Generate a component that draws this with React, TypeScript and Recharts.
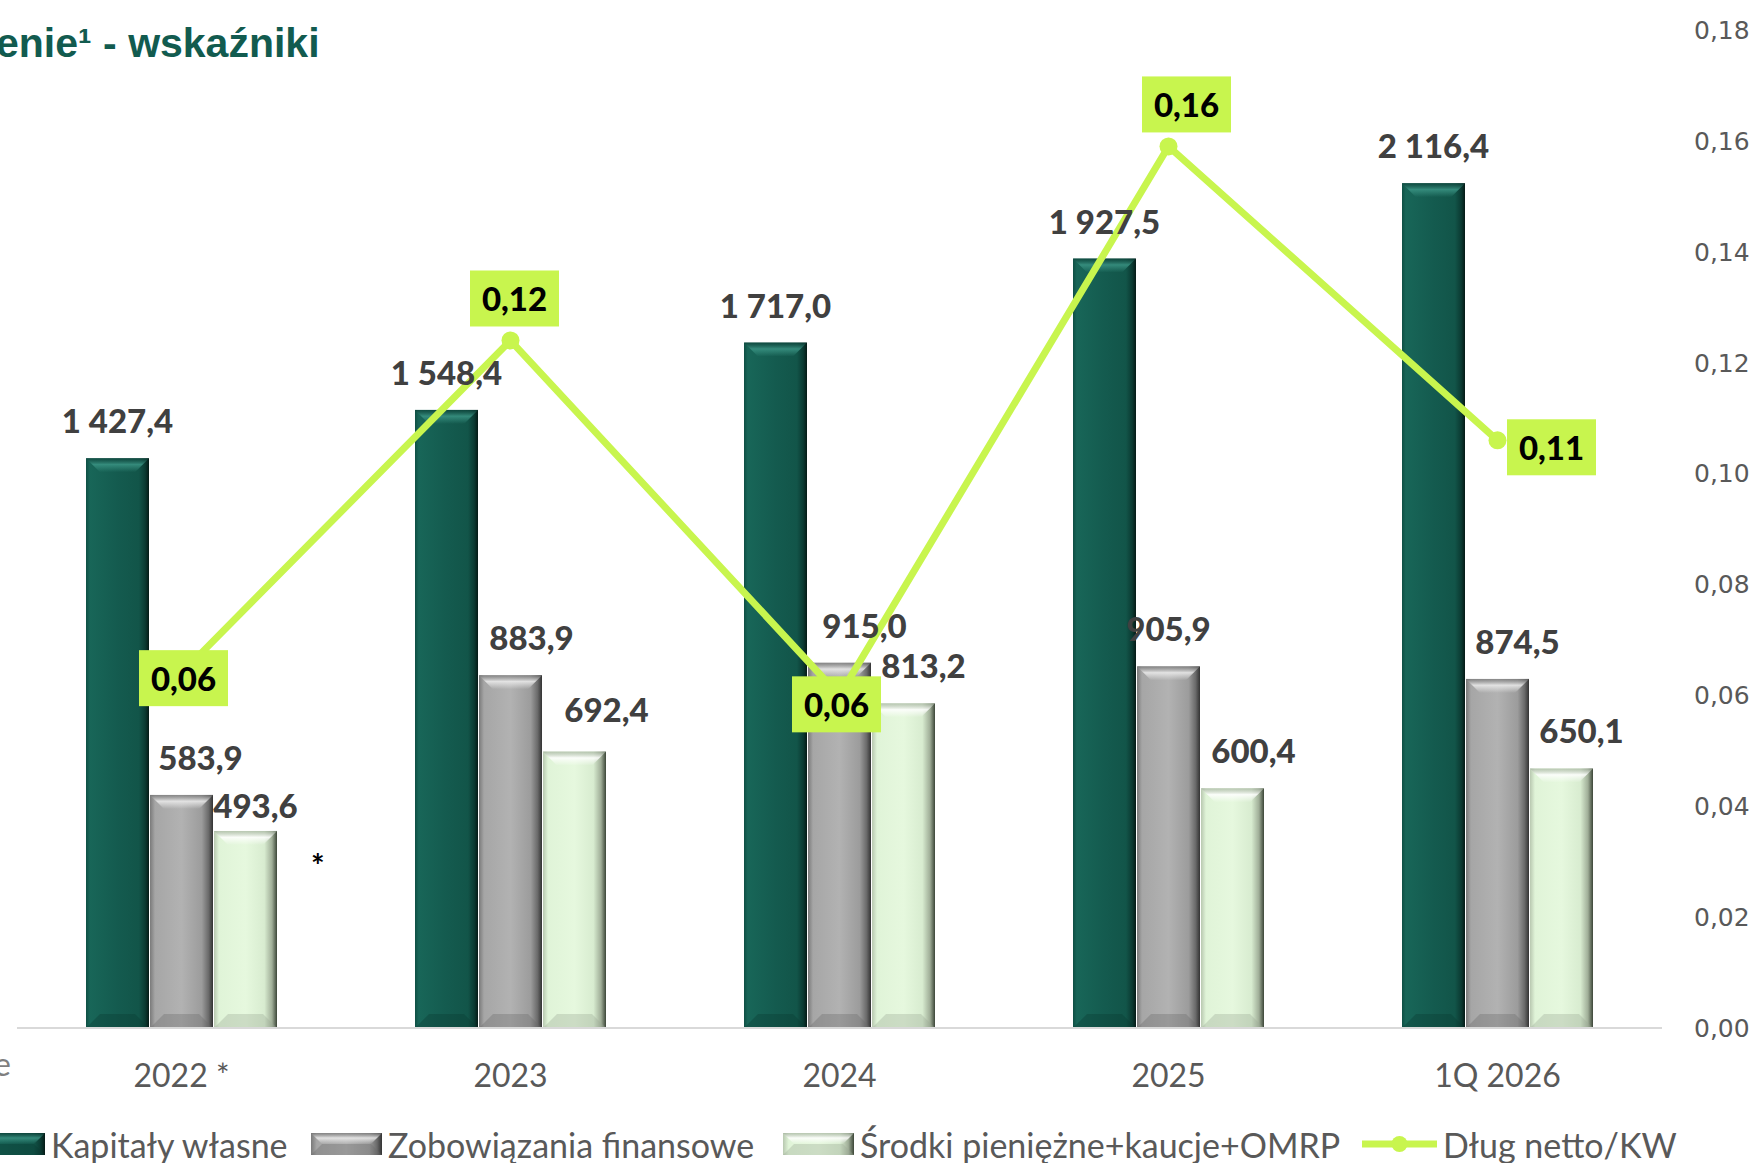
import { ComposedChart, Bar, Line, XAxis, YAxis, LabelList } from 'recharts'

// --- data ---
const categories = ['2022 *', '2023', '2024', '2025', '1Q 2026']
const kapitalyWlasne = [1427.4, 1548.4, 1717.0, 1927.5, 2116.4]
const zobowiazaniaFinansowe = [583.9, 883.9, 915.0, 905.9, 874.5]
const srodkiPieniezne = [493.6, 692.4, 813.2, 600.4, 650.1]
const dlugNettoKw = [0.064, 0.124, 0.06, 0.159, 0.106]
const rightTicks = [0, 0.02, 0.04, 0.06, 0.08, 0.1, 0.12, 0.14, 0.16, 0.18]

// label nudges (px) so the labels sit where the slide has them
const greyLabelDx = [19, 21, 25, 0, 20]
const lightLabelDx = [10, 32, 20, 21, 20]
const lightLabelDy = [12, -5, 0, 0, 0]
const ratioBoxOffset = [
  [2, 5],
  [4, -42],
  [-3, 9],
  [18, -42],
  [54, 7],
]

const W = 1761
const H = 1163
const LIME = '#c8f54e'
const FONT = 'Lato, "Open Sans", sans-serif'

const data = categories.map((name, i) => ({
  name,
  kapitaly: kapitalyWlasne[i],
  zobowiazania: zobowiazaniaFinansowe[i],
  srodki: srodkiPieniezne[i],
  dlug: dlugNettoKw[i],
}))

interface Tone {
  id: string
  stops: [number, string][]
  top: string
  edge: string
}

const TONES: Record<string, Tone> = {
  green: {
    id: 'gGreen',
    stops: [
      [0, '#0f4f44'],
      [0.06, '#186658'],
      [0.5, '#145b4f'],
      [0.84, '#125549'],
      [0.94, '#0b3a32'],
      [1, '#051a16'],
    ],
    top: '#3a9383',
    edge: '#0a3a32',
  },
  grey: {
    id: 'gGrey',
    stops: [
      [0, '#7a7a7a'],
      [0.08, '#a6a6a6'],
      [0.5, '#b2b2b2'],
      [0.82, '#9c9c9c'],
      [0.93, '#6a6a6a'],
      [1, '#333333'],
    ],
    top: '#ececec',
    edge: '#6a6a6a',
  },
  light: {
    id: 'gLight',
    stops: [
      [0, '#b8c8b0'],
      [0.08, '#e0f4d8'],
      [0.5, '#e6f8de'],
      [0.8, '#d8ecd0'],
      [0.92, '#a0ae98'],
      [1, '#3c4638'],
    ],
    top: '#ffffff',
    edge: '#9aa894',
  },
}

// Polish number format: "1 427,4"
function fmtValue(v: number): string {
  const [int, dec] = v.toFixed(1).split('.')
  return `${int.replace(/\B(?=(\d{3})+(?!\d))/g, ' ')},${dec}`
}

function fmtRatio(v: number): string {
  return v.toFixed(2).replace('.', ',')
}

function Gradients() {
  return (
    <defs>
      {Object.values(TONES).map((t) => (
        <g key={t.id}>
          <linearGradient id={t.id} x1="0" y1="0" x2="1" y2="0">
            {t.stops.map(([o, c]) => (
              <stop key={o} offset={o} stopColor={c} />
            ))}
          </linearGradient>
          <linearGradient id={`${t.id}Top`} x1="0" y1="0" x2="0" y2="1">
            <stop offset={0} stopColor={t.edge} stopOpacity={0.6} />
            <stop offset={0.45} stopColor={t.top} stopOpacity={0.85} />
            <stop offset={1} stopColor={t.top} stopOpacity={0} />
          </linearGradient>
        </g>
      ))}
    </defs>
  )
}

// bevelled bar, roughly like the Office "bevel" effect
function BevelBar(props: any) {
  const { x, y, width, height, tone } = props as {
    x: number
    y: number
    width: number
    height: number
    tone: Tone
  }
  if (!height || height <= 0) return null
  const b = Math.min(14, height / 2, width / 4)
  return (
    <g>
      <rect x={x} y={y} width={width} height={height} fill={`url(#${tone.id})`} />
      <polygon
        points={`${x},${y} ${x + width},${y} ${x + width - b},${y + b} ${x + b},${y + b}`}
        fill={`url(#${tone.id}Top)`}
      />
      <polygon
        points={`${x},${y + height} ${x + b},${y + height - b} ${x + width - b},${y + height - b} ${x + width},${y + height}`}
        fill={tone.edge}
        opacity={0.35}
      />
    </g>
  )
}

function makeBarLabel(dxs: number[], dys: number[]) {
  // eslint-disable-next-line @typescript-eslint/no-explicit-any
  return function BarLabel(props: any) {
    const { x, y, width, value, index } = props
    return (
      <text
        x={x + width / 2 + (dxs[index] || 0)}
        y={y - 38 + (dys[index] || 0)}
        textAnchor="middle"
        dominantBaseline="central"
        fill="#404040"
        fontFamily={FONT}
        fontWeight={900}
        fontSize={33}
      >
        {fmtValue(value)}
      </text>
    )
  }
}

const zeros = [0, 0, 0, 0, 0]

// eslint-disable-next-line @typescript-eslint/no-explicit-any
function RatioBox(props: any) {
  const { x, y, value, index } = props
  const [dx, dy] = ratioBoxOffset[index] || [0, 0]
  const cx = x + dx
  const cy = y + dy
  return (
    <g>
      <rect x={cx - 44.5} y={cy - 28} width={89} height={56} fill={LIME} />
      <text
        x={cx}
        y={cy}
        textAnchor="middle"
        dominantBaseline="central"
        fill="#000"
        fontFamily={FONT}
        fontWeight={900}
        fontSize={33}
      >
        {fmtRatio(value)}
      </text>
    </g>
  )
}

function BarSwatch({ tone }: { tone: Tone }) {
  return (
    <svg width={71} height={22} style={{ display: 'block' }}>
      <BevelBar x={0} y={0} width={71} height={22} tone={tone} />
    </svg>
  )
}

function LineSwatch() {
  return (
    <svg width={75} height={22} style={{ display: 'block' }}>
      <line x1={0} y1={11} x2={75} y2={11} stroke={LIME} strokeWidth={7} />
      <circle cx={37.5} cy={11} r={8} fill={LIME} />
    </svg>
  )
}

const legendItems = [
  { left: -26, label: 'Kapitały własne', swatch: <BarSwatch tone={TONES.green} /> },
  { left: 311, label: 'Zobowiązania finansowe', swatch: <BarSwatch tone={TONES.grey} /> },
  { left: 783, label: 'Środki pieniężne+kaucje+OMRP', swatch: <BarSwatch tone={TONES.light} /> },
  { left: 1362, label: 'Dług netto/KW', swatch: <LineSwatch /> },
]

export default function App() {
  return (
    <div
      style={{
        position: 'fixed',
        left: 0,
        top: 0,
        width: W,
        height: H,
        overflow: 'hidden',
        background: '#fff',
        fontFamily: FONT,
      }}
    >
      <ComposedChart
        width={W}
        height={H}
        data={data}
        margin={{ top: 30, right: 0, left: 17, bottom: 75 }}
        barSize={63}
        barGap={1}
      >
        <Gradients />
        <XAxis
          dataKey="name"
          tickLine={false}
          axisLine={{ stroke: '#d9d9d9', strokeWidth: 2 }}
          tick={{ fill: '#595959', fontSize: 32, fontFamily: FONT }}
          tickMargin={30}
          height={60}
        />
        <YAxis yAxisId="left" domain={[0, 2500]} hide />
        <YAxis
          yAxisId="right"
          orientation="right"
          domain={[0, 0.18]}
          ticks={rightTicks}
          tickFormatter={fmtRatio}
          axisLine={false}
          tickLine={false}
          tickMargin={26}
          width={99}
          tick={{ fill: '#595959', fontSize: 25, fontFamily: '"DejaVu Sans", Verdana, sans-serif', textAnchor: 'start' }}
        />
        <Bar
          yAxisId="left"
          dataKey="kapitaly"
          shape={(p: any) => <BevelBar {...p} tone={TONES.green} />}
          isAnimationActive={false}
        >
          <LabelList dataKey="kapitaly" content={makeBarLabel(zeros, zeros)} />
        </Bar>
        <Bar
          yAxisId="left"
          dataKey="zobowiazania"
          shape={(p: any) => <BevelBar {...p} tone={TONES.grey} />}
          isAnimationActive={false}
        >
          <LabelList dataKey="zobowiazania" content={makeBarLabel(greyLabelDx, zeros)} />
        </Bar>
        <Bar
          yAxisId="left"
          dataKey="srodki"
          shape={(p: any) => <BevelBar {...p} tone={TONES.light} />}
          isAnimationActive={false}
        >
          <LabelList dataKey="srodki" content={makeBarLabel(lightLabelDx, lightLabelDy)} />
        </Bar>
        <Line
          yAxisId="right"
          dataKey="dlug"
          stroke={LIME}
          strokeWidth={7}
          dot={{ r: 9, fill: LIME, stroke: 'none' }}
          activeDot={false}
          isAnimationActive={false}
        >
          <LabelList dataKey="dlug" content={RatioBox} />
        </Line>
      </ComposedChart>

      {/* slide title, cut off on the left in the original */}
      <div
        style={{
          position: 'absolute',
          left: -4,
          top: 23,
          fontFamily: '"Liberation Sans", Arial, sans-serif',
          fontWeight: 700,
          fontSize: 41,
          lineHeight: 1,
          color: '#125b4f',
          whiteSpace: 'nowrap',
        }}
      >
        enie¹ - wskaźniki
      </div>

      {/* footnote marker */}
      <div
        style={{
          position: 'absolute',
          left: 311,
          top: 850,
          fontSize: 32,
          fontWeight: 700,
          lineHeight: 1,
          color: '#000',
        }}
      >
        *
      </div>

      {/* leftover of a cut-off caption */}
      <div
        style={{
          position: 'absolute',
          left: -6,
          top: 1048,
          fontSize: 32,
          lineHeight: 1,
          color: '#7f7f7f',
        }}
      >
        e
      </div>

      {/* legend */}
      {legendItems.map((it) => (
        <div
          key={it.label}
          style={{
            position: 'absolute',
            left: it.left,
            top: 1122,
            height: 44,
            display: 'flex',
            alignItems: 'center',
            gap: 6,
            whiteSpace: 'nowrap',
            fontSize: 34,
            color: '#595959',
          }}
        >
          {it.swatch}
          <span>{it.label}</span>
        </div>
      ))}
    </div>
  )
}
